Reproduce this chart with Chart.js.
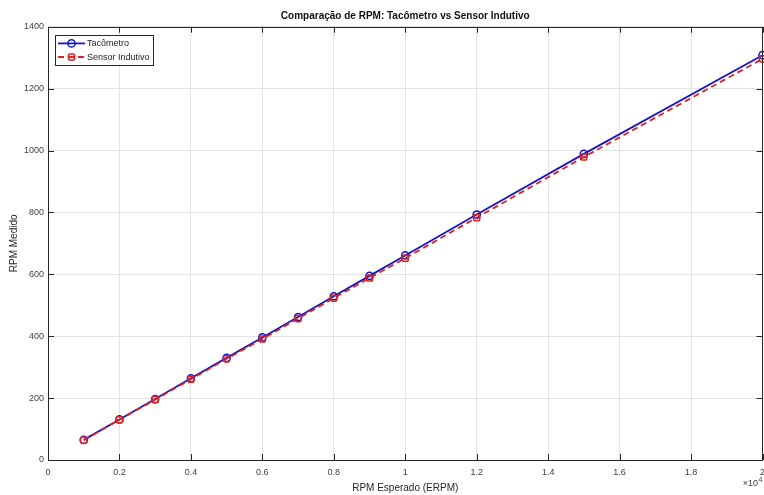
<!DOCTYPE html>
<html lang="pt">
<head>
  <meta charset="UTF-8">
  <title>Comparação de RPM</title>
  <script src="https://cdn.jsdelivr.net/npm/chart.js"></script>
  <style>
    body { margin: 0; background: #fff; }
    #rpm-chart { display: block; }
  </style>
</head>
<body>
  <canvas id="rpm-chart" width="764" height="495"></canvas>

  <script>
    // Dados
    const expectedErpm = [1000, 2000, 3000, 4000, 5000, 6000, 7000, 8000, 9000, 10000, 12000, 15000, 20000];
    const tachometerRpm = [65, 131, 197, 264, 330, 396, 462, 529, 595, 661, 793, 989, 1308];
    const inductiveRpm = [64, 130, 195, 261, 327, 391, 457, 523, 588, 652, 783, 979, 1296];
    const xTicksMax = 20000;
    const xTickStep = 2000;
    const xExponent = 4;
    const yTicksMax = 1400;
    const yTickStep = 200;

    const FONT = '"Liberation Sans", Arial, sans-serif';
    const AXIS_COLOR = '#262626';

    const toPoints = ys => expectedErpm.map((x, i) => ({ x: x, y: ys[i] }));

    // Caixa no estilo MATLAB com marcas para dentro
    const axesBox = {
      id: 'axesBox',
      afterDatasetsDraw(chart) {
        const { ctx, chartArea: a, scales: { x, y } } = chart;
        const len = 6;
        ctx.save();
        ctx.strokeStyle = AXIS_COLOR;
        ctx.lineWidth = 1;
        ctx.strokeRect(Math.round(a.left) + 0.5, Math.round(a.top) + 0.5,
          Math.round(a.right) - Math.round(a.left) - 1, Math.round(a.bottom) - Math.round(a.top));
        ctx.beginPath();
        x.ticks.forEach(t => {
          const px = Math.round(x.getPixelForValue(t.value)) + 0.5;
          ctx.moveTo(px, a.bottom); ctx.lineTo(px, a.bottom - len);
          ctx.moveTo(px, a.top); ctx.lineTo(px, a.top + len);
        });
        y.ticks.forEach(t => {
          const py = Math.round(y.getPixelForValue(t.value)) + 0.5;
          ctx.moveTo(a.left, py); ctx.lineTo(a.left + len, py);
          ctx.moveTo(a.right, py); ctx.lineTo(a.right - len, py);
        });
        ctx.stroke();
        ctx.restore();
      },
      afterDraw(chart) {
        const { ctx, chartArea: a } = chart;
        // multiplicador do eixo x
        ctx.save();
        ctx.fillStyle = '#404040';
        ctx.textBaseline = 'alphabetic';
        ctx.textAlign = 'right';
        ctx.font = '7px ' + FONT;
        ctx.fillText(String(xExponent), a.right, a.bottom + 22);
        const expW = ctx.measureText(String(xExponent)).width;
        ctx.font = '9px ' + FONT;
        ctx.fillText('\u00d710', a.right - expW - 0.5, a.bottom + 26);
        ctx.restore();
      }
    };

    // Legenda com caixa dentro da área do gráfico
    const boxLegend = {
      id: 'boxLegend',
      afterDraw(chart) {
        const { ctx, chartArea: a } = chart;
        const sets = chart.data.datasets;
        ctx.save();
        ctx.font = '9px ' + FONT;
        const textW = Math.max(...sets.map(ds => ctx.measureText(ds.label).width));
        const x0 = a.left + 7, y0 = a.top + 8, w = 32 + textW + 3, h = 30, rowH = 13.6;
        ctx.fillStyle = '#fff';
        ctx.fillRect(x0, y0, w, h);
        ctx.strokeStyle = AXIS_COLOR;
        ctx.lineWidth = 1;
        ctx.strokeRect(Math.round(x0) + 0.5, Math.round(y0) + 0.5, Math.round(w), h);
        sets.forEach((ds, i) => {
          const cy = y0 + 8.7 + i * rowH;
          ctx.strokeStyle = ds.borderColor;
          ctx.lineWidth = ds.borderWidth;
          ctx.setLineDash(ds.borderDash || []);
          ctx.beginPath();
          ctx.moveTo(x0 + 3, cy); ctx.lineTo(x0 + 30, cy);
          ctx.stroke();
          ctx.setLineDash([]);
          ctx.fillStyle = 'rgba(0,0,0,0)';
          ctx.strokeStyle = ds.borderColor;
          ctx.lineWidth = ds.pointBorderWidth;
          Chart.helpers.drawPoint(ctx, {
            pointStyle: ds.pointStyle, radius: ds.pointRadius, rotation: 0,
            borderWidth: ds.pointBorderWidth
          }, x0 + 16.5, cy);
          ctx.fillStyle = '#1a1a1a';
          ctx.font = '9px ' + FONT;
          ctx.textBaseline = 'middle';
          ctx.textAlign = 'left';
          ctx.fillText(ds.label, x0 + 32, cy + 0.5);
        });
        ctx.restore();
      }
    };

    new Chart(document.getElementById('rpm-chart'), {
      type: 'line',
      data: {
        datasets: [
          {
            label: 'Tacômetro',
            data: toPoints(tachometerRpm),
            borderColor: '#1616c4',
            borderWidth: 1.8,
            pointStyle: 'circle',
            pointRadius: 3.6,
            pointBorderWidth: 1.5,
            pointBackgroundColor: 'rgba(0,0,0,0)',
            pointBorderColor: '#1616c4',
            clip: 6,
            order: 2
          },
          {
            label: 'Sensor Indutivo',
            data: toPoints(inductiveRpm),
            borderColor: '#dc2222',
            borderWidth: 1.8,
            borderDash: [6, 4],
            pointStyle: 'rectRounded',
            pointRadius: 3.6,
            pointBorderWidth: 1.5,
            pointBackgroundColor: 'rgba(0,0,0,0)',
            pointBorderColor: '#dc2222',
            clip: 6,
            order: 1
          }
        ]
      },
      options: {
        responsive: false,
        animation: false,
        devicePixelRatio: 1,
        layout: { autoPadding: false, padding: { left: 0, right: 1.5, top: 0, bottom: 0 } },
        plugins: {
          legend: { display: false },
          tooltip: { enabled: false },
          title: {
            display: true,
            fullSize: false,
            text: 'Comparação de RPM: Tacômetro vs Sensor Indutivo',
            color: '#111',
            font: { family: FONT, size: 10, weight: 'bold' },
            padding: { top: 10, bottom: 4.7 }
          }
        },
        scales: {
          x: {
            type: 'linear',
            min: 0,
            max: xTicksMax,
            afterFit(scale) { scale.height = 35; scale.paddingLeft = 0; scale.paddingRight = 0; },
            ticks: {
              stepSize: xTickStep,
              padding: 7,
              color: '#404040',
              font: { family: FONT, size: 9 },
              maxRotation: 0,
              callback: v => String(+(v / Math.pow(10, xExponent)).toFixed(1))
            },
            grid: { color: '#e3e3e3', drawTicks: false },
            border: { display: false },
            title: {
              display: true,
              text: 'RPM Esperado (ERPM)',
              color: '#262626',
              font: { family: FONT, size: 10 },
              padding: { top: 0, bottom: 1 }
            }
          },
          y: {
            min: 0,
            max: yTicksMax,
            afterFit(scale) { scale.width = 48; },
            ticks: {
              stepSize: yTickStep,
              padding: 4,
              color: '#404040',
              font: { family: FONT, size: 9 },
              callback: v => String(v)
            },
            grid: { color: '#e3e3e3', drawTicks: false },
            border: { display: false },
            title: {
              display: true,
              text: 'RPM Medido',
              color: '#262626',
              font: { family: FONT, size: 10 },
              padding: { top: 8, bottom: 0 }
            }
          }
        }
      },
      plugins: [axesBox, boxLegend]
    });
  </script>
</body>
</html>
